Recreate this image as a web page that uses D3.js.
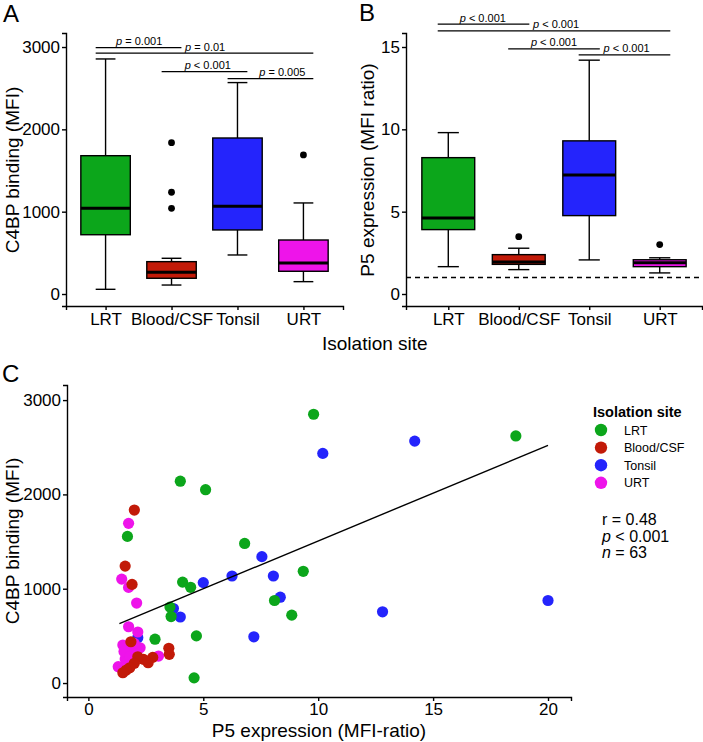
<!DOCTYPE html>
<html>
<head>
<meta charset="utf-8">
<script src="https://cdn.jsdelivr.net/npm/d3@7"></script>
<style>
  body { margin: 0; background: #fff; }
  svg { display: block; font-family: "Liberation Sans", Arial, Helvetica, sans-serif; }
</style>
</head>
<body>
<svg width="703" height="742"></svg>
<script>
// categories and colours
var categories = ["LRT", "Blood/CSF", "Tonsil", "URT"];
var colors = ["#0ca61b", "#c21a08", "#2424fc", "#ee14ea"];

// panel A box stats (C4BP binding, MFI)
var c4bpLow = [57, 109, 474, 150];
var c4bpQ1 = [720, 191, 778, 276];
var c4bpMed = [1041, 264, 1065, 377];
var c4bpQ3 = [1680, 393, 1895, 656];
var c4bpHigh = [2855, 434, 2568, 1106];
var c4bpOutliers = [[], [1041, 1236, 1838], [], [1689]];
var c4bpTicks = [0, 1000, 2000, 3000];

// panel B box stats (P5 expression, MFI ratio)
var p5Low = [1.66, 1.48, 2.07, 1.28];
var p5Q1 = [3.91, 1.80, 4.76, 1.66];
var p5Med = [4.62, 1.94, 7.23, 1.90];
var p5Q3 = [8.28, 2.39, 9.30, 2.08];
var p5High = [9.80, 2.78, 14.2, 2.20];
var p5Outliers = [[], [3.48], [], [3.0]];
var p5Ticks = [0, 5, 10, 15];
var p5Reference = 1;

// significance brackets
var pairs = [[0, 1], [0, 3], [1, 2], [2, 3]];
var c4bpBracketY = [2993, 2925, 2701, 2616];
var c4bpBracketText = ["= 0.001", "= 0.01", "< 0.001", "= 0.005"];
var c4bpBracketPos = [1.51, 2.51, 2.55, 3.68];
var p5BracketY = [16.39, 15.98, 14.88, 14.52];
var p5BracketText = ["< 0.001", "< 0.001", "< 0.001", "< 0.001"];
var p5BracketPos = [1.49, 2.53, 2.5, 3.53];

// panel C scatter, one pair of arrays per site
var lrtP5 = [9.8, 18.6, 4.0, 5.1, 1.7, 6.8, 9.35, 4.1, 4.45, 8.1, 3.55, 8.85, 3.6, 4.7, 2.9, 4.6];
var lrtC4bp = [2850, 2620, 2140, 2050, 1555, 1480, 1185, 1070, 1015, 875, 805, 720, 705, 500, 465, 55];
var tonsilP5 = [14.2, 10.2, 7.55, 6.25, 8.05, 5.0, 8.35, 3.7, 4.0, 7.2, 2.15, 12.8, 20.0];
var tonsilC4bp = [2565, 2435, 1340, 1135, 1135, 1065, 910, 790, 700, 490, 480, 755, 875];
var bloodP5 = [2.0, 1.6, 1.9, 1.85, 3.5, 3.52, 2.8, 2.6, 2.4, 2.15, 2.0, 1.8, 1.65, 1.5];
var bloodC4bp = [1834, 1240, 1046, 438, 368, 304, 272, 215, 251, 279, 209, 162, 138, 109];
var urtP5 = [1.75, 1.45, 1.75, 2.1, 1.75, 2.15, 1.5, 2.25, 1.65, 3.05, 1.3, 1.85, 1.6, 2.0, 1.9, 1.7, 2.1, 1.55, 1.8, 2.0];
var urtC4bp = [1693, 1102, 1014, 848, 597, 541, 403, 374, 307, 286, 173, 350, 255, 310, 210, 230, 330, 335, 280, 420];
var fitP5 = [1.35, 20.0];
var fitC4bp = [630, 2520];
var scatterXTicks = [0, 5, 10, 15, 20];
var scatterYTicks = [0, 1000, 2000, 3000];
var statLines = [["r = 0.48", ""], ["p", " < 0.001"], ["n", " = 63"]];

var svg = d3.select("svg");
var tickFont = "17px", titleFont = "19px";
var fmt = d3.format("d");

function styleAxis(sel) {
    sel.select(".domain").attr("stroke", "#000").attr("stroke-width", 1.4);
    sel.selectAll(".tick line").attr("stroke", "#000").attr("stroke-width", 1.4);
    sel.selectAll(".tick text").attr("fill", "#000").style("font-size", tickFont)
        .style("font-family", "Liberation Sans, Arial, sans-serif");
}

function panelLabel(txt, x, y) {
    svg.append("text").attr("x", x).attr("y", y).style("font-size", "24px").text(txt);
}

function yTitle(txt, x, y) {
    svg.append("text")
        .attr("transform", "translate(" + x + "," + y + ") rotate(-90)")
        .attr("text-anchor", "middle")
        .style("font-size", titleFont)
        .text(txt);
}

function drawBoxPanel(opts) {
    var x = d3.scalePoint().domain(categories).range(opts.xRange).padding(0.6);
    var y = d3.scaleLinear().domain(opts.yDomain).range([306, 33]);
    var step = x.step(), bw = step * 0.75;
    var g = svg.append("g");

    // x axis
    g.append("g")
        .attr("transform", "translate(0,306)")
        .call(d3.axisBottom(x).tickSizeOuter(0).tickSize(4).tickPadding(3))
        .call(styleAxis);
    // y axis
    g.append("g")
        .attr("transform", "translate(" + opts.xRange[0] + ",0)")
        .call(d3.axisLeft(y).tickValues(opts.ticks).tickFormat(fmt).tickSizeOuter(0).tickSize(4).tickPadding(2))
        .call(styleAxis);

    if (opts.reference != null) {
        g.append("line")
            .attr("x1", opts.xRange[0]).attr("x2", opts.xRange[1])
            .attr("y1", y(opts.reference)).attr("y2", y(opts.reference))
            .attr("stroke", "#000").attr("stroke-width", 1.4)
            .attr("stroke-dasharray", "5,4");
    }

    categories.forEach(function(c, i) {
        var cx = x(c);
        // whiskers
        g.append("line").attr("x1", cx).attr("x2", cx)
            .attr("y1", y(opts.high[i])).attr("y2", y(opts.q3[i]))
            .attr("stroke", "#000").attr("stroke-width", 1.4);
        g.append("line").attr("x1", cx).attr("x2", cx)
            .attr("y1", y(opts.q1[i])).attr("y2", y(opts.low[i]))
            .attr("stroke", "#000").attr("stroke-width", 1.4);
        [opts.high[i], opts.low[i]].forEach(function(v) {
            g.append("line").attr("x1", cx - bw * 0.2).attr("x2", cx + bw * 0.2)
                .attr("y1", y(v)).attr("y2", y(v))
                .attr("stroke", "#000").attr("stroke-width", 1.4);
        });
        // box
        g.append("rect")
            .attr("x", cx - bw / 2).attr("width", bw)
            .attr("y", y(opts.q3[i])).attr("height", y(opts.q1[i]) - y(opts.q3[i]))
            .attr("fill", colors[i]).attr("stroke", "#000").attr("stroke-width", 1.4);
        g.append("line").attr("x1", cx - bw / 2).attr("x2", cx + bw / 2)
            .attr("y1", y(opts.med[i])).attr("y2", y(opts.med[i]))
            .attr("stroke", "#000").attr("stroke-width", 3);
        // outliers
        opts.outliers[i].forEach(function(v) {
            g.append("circle").attr("cx", cx).attr("cy", y(v)).attr("r", 3.4).attr("fill", "#000");
        });
    });

    // significance brackets
    pairs.forEach(function(p, k) {
        var yy = y(opts.bracketY[k]);
        g.append("line")
            .attr("x1", x(categories[p[0]]) - step * 0.15)
            .attr("x2", x(categories[p[1]]) + step * 0.15)
            .attr("y1", yy).attr("y2", yy)
            .attr("stroke", "#000").attr("stroke-width", 1.2);
        var t = g.append("text")
            .attr("x", x(categories[0]) + (opts.bracketPos[k] - 1) * step)
            .attr("y", yy - 2.5)
            .attr("text-anchor", "middle")
            .style("font-size", "11px");
        t.append("tspan").style("font-style", "italic").text("p");
        t.append("tspan").text(" " + opts.bracketText[k]);
    });
}

// Panel A
drawBoxPanel({
    xRange: [66, 343], yDomain: [-145.7, 3170.3], ticks: c4bpTicks,
    low: c4bpLow, q1: c4bpQ1, med: c4bpMed, q3: c4bpQ3, high: c4bpHigh, outliers: c4bpOutliers,
    bracketY: c4bpBracketY, bracketText: c4bpBracketText, bracketPos: c4bpBracketPos
});
// Panel B
drawBoxPanel({
    xRange: [406, 702], yDomain: [-0.729, 15.85], ticks: p5Ticks, reference: p5Reference,
    low: p5Low, q1: p5Q1, med: p5Med, q3: p5Q3, high: p5High, outliers: p5Outliers,
    bracketY: p5BracketY, bracketText: p5BracketText, bracketPos: p5BracketPos
});

panelLabel("A", 3, 22);
panelLabel("B", 359, 21);
panelLabel("C", 2, 382);
yTitle("C4BP binding (MFI)", 19, 170);
yTitle("P5 expression (MFI ratio)", 374, 170);
svg.append("text").attr("x", 322).attr("y", 350).style("font-size", titleFont).text("Isolation site");

// Panel C
var xs = d3.scaleLinear().domain([-0.93, 21.0]).range([67, 571]);
var ys = d3.scaleLinear().domain([-148, 3160]).range([697, 385]);
var gc = svg.append("g");
gc.append("g").attr("transform", "translate(0,697)")
    .call(d3.axisBottom(xs).tickValues(scatterXTicks).tickFormat(fmt).tickSizeOuter(0).tickSize(4).tickPadding(2))
    .call(styleAxis);
gc.append("g").attr("transform", "translate(67,0)")
    .call(d3.axisLeft(ys).tickValues(scatterYTicks).tickFormat(fmt).tickSizeOuter(0).tickSize(4).tickPadding(2))
    .call(styleAxis);

var groups = [
    {x: tonsilP5, y: tonsilC4bp, c: 2},
    {x: lrtP5, y: lrtC4bp, c: 0},
    {x: urtP5, y: urtC4bp, c: 3},
    {x: bloodP5, y: bloodC4bp, c: 1}
];
groups.forEach(function(gr) {
    gc.append("g").selectAll("circle")
        .data(gr.x.map(function(v, i) { return [v, gr.y[i]]; }))
        .enter().append("circle")
        .attr("cx", function(d) { return xs(d[0]); })
        .attr("cy", function(d) { return ys(d[1]); })
        .attr("r", 5.6)
        .attr("fill", colors[gr.c]);
});

gc.append("path")
    .datum(fitP5.map(function(v, i) { return [v, fitC4bp[i]]; }))
    .attr("d", d3.line().x(function(d) { return xs(d[0]); }).y(function(d) { return ys(d[1]); }))
    .attr("stroke", "#000").attr("stroke-width", 1.4).attr("fill", "none");

yTitle("C4BP binding (MFI)", 19, 541);
svg.append("text").attr("x", 319).attr("y", 737).attr("text-anchor", "middle")
    .style("font-size", titleFont).text("P5 expression (MFI-ratio)");

// legend
svg.append("text").attr("x", 593).attr("y", 417)
    .style("font-size", "14.5px").style("font-weight", "bold").text("Isolation site");
categories.forEach(function(c, i) {
    var ly = 430 + i * 17.6;
    svg.append("circle").attr("cx", 601).attr("cy", ly).attr("r", 6.2).attr("fill", colors[i]);
    svg.append("text").attr("x", 624).attr("y", ly + 4.5).style("font-size", "12.5px").text(c);
});

// statistics text
statLines.forEach(function(s, i) {
    var t = svg.append("text").attr("x", 602).attr("y", 525 + i * 16.5).style("font-size", "16px");
    if (i === 0) {
        t.text(s[0]);
    } else {
        t.append("tspan").style("font-style", "italic").text(s[0]);
        t.append("tspan").text(s[1]);
    }
});
</script>
</body>
</html>
